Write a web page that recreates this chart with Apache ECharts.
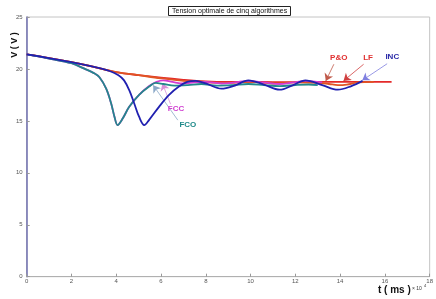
<!DOCTYPE html>
<html><head><meta charset="utf-8">
<script src="https://cdn.jsdelivr.net/npm/echarts@6/dist/echarts.min.js"></script>
<style>html,body{margin:0;padding:0;background:#fff}#c{width:436px;height:299px}</style>
</head><body><div id="c"></div>
<script>
// ---- data (t in ms ×10^4, V in volts) ----
const xTicks = [0, 2, 4, 6, 8, 10, 12, 14, 16, 18];
const yTicks = [0, 5, 10, 15, 20, 25];

const tPO = [0, 1, 2, 3, 4, 5, 6, 7, 8, 9, 10, 11, 12, 13, 14, 15, 16.3];
const vPO = [21.4, 21.05, 20.65, 20.2, 19.7, 19.4, 19.15, 18.95, 18.8, 18.75, 18.75, 18.74, 18.74, 18.75, 18.75, 18.75, 18.75];

const tLF = [0, 1, 2, 3, 4, 5, 6, 7, 8, 9, 10, 11, 12, 13, 13.5, 13.9, 14.3, 14.8, 15.5];
const vLF = [21.4, 21.05, 20.65, 20.2, 19.7, 19.4, 19.1, 18.85, 18.7, 18.65, 18.75, 18.6, 18.7, 18.65, 18.55, 18.45, 18.5, 18.7, 18.75];

const tINC = [0, 1, 2, 3, 3.7, 4.1, 4.35, 4.58, 4.8, 5.02, 5.25, 5.47, 5.91, 6.36, 6.8, 7.17, 7.55, 8.0, 8.7, 9.3, 9.9, 10.6, 11.3, 11.9, 12.45, 13.2, 13.9, 14.5, 15.0];
const vINC = [21.4, 21.05, 20.65, 20.2, 19.8, 19.4, 18.9, 17.95, 16.7, 15.4, 14.6, 15.1, 16.35, 17.5, 18.3, 18.75, 18.85, 18.6, 18.1, 18.4, 18.9, 18.5, 18.0, 18.45, 18.9, 18.45, 18.0, 18.35, 18.85];

const tFCC = [0, 1, 2, 2.6, 3.0, 3.25, 3.55, 3.77, 3.92, 4.06, 4.28, 4.58, 5.02, 5.47, 5.8, 6.1, 6.5, 7.0, 7.5, 8.0, 8.7, 9.3, 9.9, 10.6, 11.3, 11.9, 12.45, 13.2];
const vFCC = [21.4, 21.0, 20.55, 20.0, 19.6, 19.2, 18.1, 16.7, 15.4, 14.6, 15.2, 16.35, 17.5, 18.35, 18.75, 18.9, 18.75, 18.6, 18.7, 18.75, 18.6, 18.7, 18.85, 18.7, 18.55, 18.7, 18.85, 18.7];

const tFCO = [0, 1, 2, 2.6, 3.0, 3.25, 3.55, 3.77, 3.92, 4.06, 4.28, 4.58, 5.02, 5.47, 5.76, 6.1, 6.6, 7.2, 7.8, 8.5, 9.2, 9.9, 10.6, 11.3, 12.0, 12.6, 13.0];
const vFCO = [21.4, 21.0, 20.55, 20.0, 19.6, 19.2, 18.1, 16.7, 15.4, 14.6, 15.2, 16.35, 17.5, 18.3, 18.65, 18.55, 18.4, 18.45, 18.55, 18.4, 18.45, 18.55, 18.45, 18.35, 18.45, 18.5, 18.45];

// annotation labels [t, V] and arrows [from t, from V, to t, to V]
const labPO = [13.94, 21.03], arrPO = [13.72, 20.45, 13.36, 18.85];
const labLF = [15.25, 21.1], arrLF = [15.05, 20.45, 14.15, 18.85];
const labINC = [16.33, 21.13], arrINC = [16.1, 20.5, 14.99, 18.9];
const labFCC = [6.67, 16.12], arrFCC = [6.43, 16.6, 6.06, 18.6];
const labFCO = [7.2, 14.6], arrFCO = [6.75, 15.07, 5.65, 18.43];

const pairs = (t, v) => t.map((x, i) => [x, v[i]]);
const FONT = 'Liberation Sans, Arial, sans-serif';

function mk(name, t, v, color, lab, arr, labColor, arrColor, z) {
  return {
    name, type: 'line', data: pairs(t, v), smooth: 0.35, showSymbol: false, z,
    lineStyle: { color, width: 1.8 }, itemStyle: { color },
    markLine: {
      silent: true, symbol: ['none', 'arrow'], symbolSize: 7,
      lineStyle: { color: arrColor, width: 0.8, type: 'solid' },
      itemStyle: { color: labColor },
      label: { show: false },
      data: [[{ coord: [arr[0], arr[1]] }, { coord: [arr[2], arr[3]] }]]
    },
    markPoint: {
      silent: true, symbol: 'circle', symbolSize: 1,
      itemStyle: { color: 'rgba(0,0,0,0)' },
      label: { show: true, position: 'inside', formatter: name, color: labColor,
               fontWeight: 'bold', fontSize: 8, fontFamily: FONT },
      data: [{ coord: lab }]
    }
  };
}

const chart = echarts.init(document.getElementById('c'), null, { renderer: 'canvas' });
chart.setOption({
  animation: false,
  backgroundColor: '#fff',
  title: {
    text: 'Tension optimale de cinq algorithmes',
    left: 168, top: 6, padding: [2, 4, 1, 4],
    borderColor: '#222', borderWidth: 1, backgroundColor: '#fff',
    textStyle: { fontSize: 7, fontWeight: 'normal', color: '#111', fontFamily: FONT }
  },
  grid: { left: 26.7, right: 4, top: 17, bottom: 22.3, show: true, borderColor: '#c4c4c4', borderWidth: 1 },
  xAxis: {
    type: 'value', min: xTicks[0], max: xTicks[xTicks.length - 1], interval: xTicks[1] - xTicks[0],
    axisLine: { show: true, lineStyle: { color: '#b0b0b0', width: 1 } },
    axisTick: { show: true, inside: true, length: 3, lineStyle: { color: '#999' } },
    axisLabel: { fontSize: 6, color: '#555', margin: 2, fontFamily: FONT },
    splitLine: { show: false }
  },
  yAxis: {
    type: 'value', min: yTicks[0], max: yTicks[yTicks.length - 1], interval: yTicks[1] - yTicks[0],
    axisLine: { show: true, lineStyle: { color: '#7070b0', width: 1.5 } },
    axisTick: { show: true, inside: true, length: 3, lineStyle: { color: '#999' } },
    axisLabel: { fontSize: 6, color: '#555', margin: 4, fontFamily: FONT },
    splitLine: { show: false }
  },
  graphic: [
    { type: 'text', x: 15, y: 45, rotation: Math.PI / 2,
      style: { text: 'V ( V )', font: 'bold 9px ' + FONT, fill: '#111', textAlign: 'center', textVerticalAlign: 'middle' } },
    { type: 'text', x: 378, y: 285,
      style: { text: 't ( ms )', font: 'bold 10px ' + FONT, fill: '#111' } },
    { type: 'text', x: 412, y: 286,
      style: { text: '× 10', font: '5px ' + FONT, fill: '#333' } },
    { type: 'text', x: 424, y: 284,
      style: { text: '4', font: '4px ' + FONT, fill: '#333' } }
  ],
  series: [
    mk('P&O', tPO, vPO, '#e42a2a', labPO, arrPO, '#e03030', '#c05a4a', 2),
    mk('LF', tLF, vLF, '#e05424', labLF, arrLF, '#e03030', '#d04040', 3),
    mk('FCC', tFCC, vFCC, '#d23cd2', labFCC, arrFCC, '#d040d0', '#d890d8', 4),
    mk('FCO', tFCO, vFCO, '#23888c', labFCO, arrFCO, '#1f8a8a', '#8aa8c8', 5),
    mk('INC', tINC, vINC, '#2020b0', labINC, arrINC, '#2a2aa8', '#8080e0', 6)
  ]
});
</script></body></html>
